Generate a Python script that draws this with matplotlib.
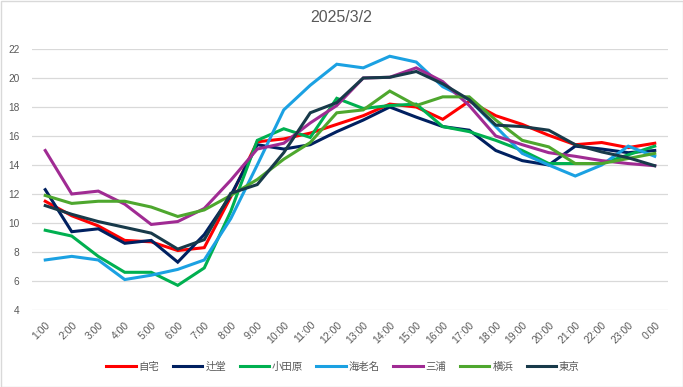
import matplotlib
matplotlib.use("Agg")
import matplotlib.pyplot as plt
from matplotlib.patches import Rectangle

plt.rcParams['font.family'] = ['Liberation Sans', 'Noto Sans CJK JP', 'DejaVu Sans']

hours = ["1:00", "2:00", "3:00", "4:00", "5:00", "6:00", "7:00", "8:00", "9:00", "10:00",
         "11:00", "12:00", "13:00", "14:00", "15:00", "16:00", "17:00", "18:00", "19:00",
         "20:00", "21:00", "22:00", "23:00", "0:00"]

jitaku = [11.5, 10.5, 9.8, 8.8, 8.7, 8.1, 8.3, 11.8, 15.6, 15.8, 16.2, 16.8,
          17.4, 18.2, 18.0, 17.15, 18.4, 17.4, 16.8, 16.05, 15.4, 15.55, 15.2, 15.5]
tsujido = [12.3, 9.4, 9.6, 8.6, 8.8, 7.3, 9.2, 11.9, 15.4, 15.1, 15.4, 16.3,
           17.1, 18.0, 17.3, 16.65, 16.4, 15.0, 14.3, 14.0, 15.3, 15.1, 14.85, 15.0]
odawara = [9.5, 9.1, 7.7, 6.6, 6.6, 5.7, 6.9, 10.8, 15.7, 16.5, 15.9, 18.6,
           17.9, 18.1, 18.2, 16.65, 16.3, 15.7, 15.0, 14.1, 14.1, 14.1, 14.7, 15.3]
ebina = [7.45, 7.7, 7.45, 6.1, 6.4, 6.8, 7.45, 10.3, 14.0, 17.8, 19.5, 20.95,
         20.7, 21.5, 21.1, 19.4, 18.5, 16.65, 14.8, 14.0, 13.24, 14.0, 15.3, 14.6]
miura = [15.0, 12.0, 12.2, 11.3, 9.9, 10.1, 11.0, 12.95, 15.1, 15.5, 16.9, 18.1,
         20.0, 20.05, 20.7, 19.75, 18.1, 16.0, 15.4, 14.85, 14.6, 14.3, 14.1, 13.95]
yokohama = [11.9, 11.35, 11.5, 11.5, 11.1, 10.45, 10.9, 11.9, 13.0, 14.4, 15.55, 17.6,
            17.8, 19.1, 18.1, 18.7, 18.7, 17.1, 15.7, 15.25, 14.1, 14.1, 14.45, 14.8]
tokyo = [11.2, 10.6, 10.1, 9.7, 9.3, 8.2, 8.85, 12.05, 12.65, 14.85, 17.6, 18.3,
         20.0, 20.05, 20.45, 19.6, 18.5, 16.75, 16.65, 16.4, 15.4, 14.9, 14.5, 13.95]

series_names = ["自宅", "辻堂", "小田原", "海老名", "三浦", "横浜", "東京"]
series_values = [jitaku, tsujido, odawara, ebina, miura, yokohama, tokyo]
series_colors = ["#FF0000", "#002060", "#00B050", "#1BA1E2", "#A02B93", "#4EA72E", "#183A4A"]

yticks = [4, 6, 8, 10, 12, 14, 16, 18, 20, 22]

fig = plt.figure(figsize=(6.83, 3.87), dpi=100)
ax = fig.add_axes([32/683, 1 - 310/387, (668-32)/683, (310-49)/387])

x = list(range(len(hours)))
for name, vals, col in zip(series_names, series_values, series_colors):
    ax.plot(x, vals, color=col, lw=2.2, label=name, solid_joinstyle='miter')

ax.set_xlim(-0.5, len(hours) - 0.5)
ax.set_ylim(4, 22)
ax.set_yticks(yticks)
ax.set_yticklabels([str(v) for v in yticks])
ax.set_xticks(x)
ax.set_xticklabels(hours, rotation=45, ha='right', va='top', rotation_mode='anchor')
ax.grid(axis='y', color='#D9D9D9', lw=0.9)
ax.set_axisbelow(True)
for s in ax.spines.values():
    s.set_visible(False)
ax.tick_params(axis='both', length=0, colors='#595959', labelsize=7.3)
ax.tick_params(axis='y', pad=9)
ax.tick_params(axis='x', pad=7, labelsize=7.5)

fig.text(0.5, 1 - 18/387, "2025/3/2", ha='center', va='center', fontsize=11.5, color='#595959')

leg = fig.legend(loc='center', bbox_to_anchor=(343/683, 1 - 367/387), ncol=7, frameon=False,
                 fontsize=7.5, handlelength=2.8, handletextpad=0.3, columnspacing=1.3,
                 labelcolor='#595959')
for h in leg.get_lines():
    h.set_linewidth(2.2)

fig.add_artist(Rectangle((0.5/683, 0.5/387), 1 - 1/683, 1 - 1/387, transform=fig.transFigure,
                         fill=False, edgecolor='#D9D9D9', lw=1))

fig.savefig("out.png", dpi=100, facecolor='white')
